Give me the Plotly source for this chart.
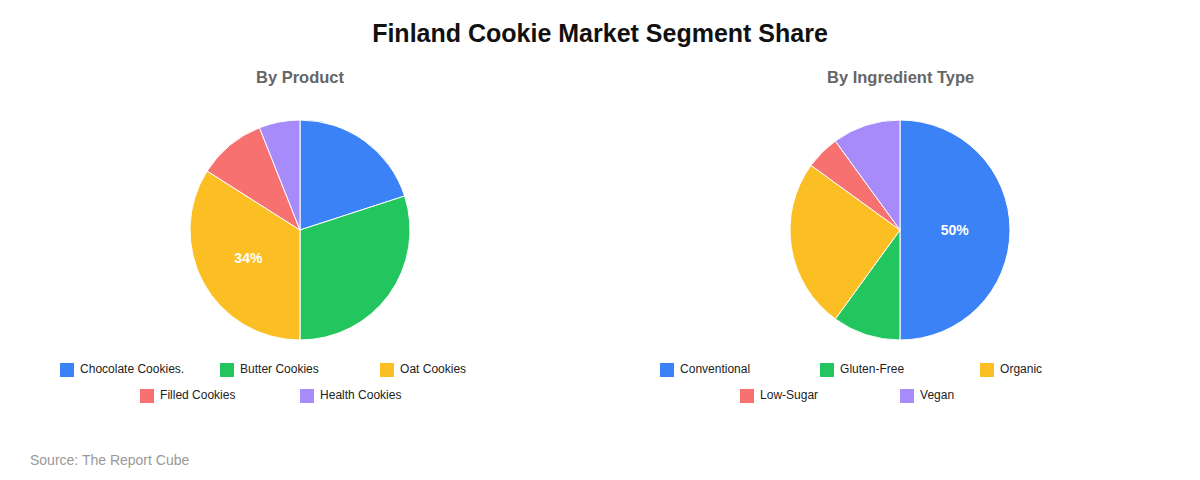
import plotly.graph_objects as go

prod_labels = ["Chocolate Cookies.", "Butter Cookies", "Oat Cookies", "Filled Cookies", "Health Cookies"]
prod_values = [20, 30, 34, 10, 6]
ingr_labels = ["Conventional", "Gluten-Free", "Organic", "Low-Sugar", "Vegan"]
ingr_values = [50, 10, 25, 5, 10]
colors = ["#3b82f6", "#22c55e", "#fbbf24", "#f87171", "#a78bfa"]

def texts(vals):
    m = max(vals)
    return ["<b>%d%%</b>" % v if v == m else "" for v in vals]

H, W, OFF = 480, 1200, 8
def px(x): return (x - OFF) / W
def py(y): return 1 - (y - OFF) / H

fig = go.Figure()
for labels, vals, cx in [(prod_labels, prod_values, 300), (ingr_labels, ingr_values, 900)]:
    fig.add_trace(go.Pie(labels=labels, values=vals, sort=False, direction="clockwise",
                         rotation=0, marker=dict(colors=colors, line=dict(color="white", width=1)),
                         text=texts(vals), textinfo="text", textposition="inside",
                         insidetextfont=dict(color="white", size=14, family="Liberation Sans"),
                         domain=dict(x=[px(cx - 110), px(cx + 110)], y=[py(340), py(120)]),
                         showlegend=False, hoverinfo="label+percent"))
    # legend built as markers on a pixel-scaled hidden axis: 3 per row, rows centered
    n = len(labels)
    xs, ys = [], []
    for i in range(n):
        row, col = divmod(i, 3)
        in_row = min(3, n - row * 3)
        start = cx + 7 - in_row * 80
        xs.append(start + col * 160)
        ys.append(370 + row * 26)
    fig.add_trace(go.Scatter(x=xs, y=ys, mode="markers+text", text=[" " + l for l in labels],
                             textposition="middle right", showlegend=False, hoverinfo="skip",
                             textfont=dict(size=12, color="#222", family="Liberation Sans"),
                             marker=dict(symbol="square", size=14, color=colors)))

fig.update_layout(
    width=W, height=H, margin=dict(l=0, r=0, t=0, b=0),
    paper_bgcolor="white", plot_bgcolor="rgba(0,0,0,0)",
    font=dict(family="Liberation Sans"),
    xaxis=dict(visible=False, range=[OFF, W + OFF], domain=[0, 1], fixedrange=True),
    yaxis=dict(visible=False, range=[H + OFF, OFF], domain=[0, 1], fixedrange=True),
    title=dict(text="<b>Finland Cookie Market Segment Share</b>", x=px(600), xanchor="center",
               y=py(33), yanchor="middle", font=dict(size=25, color="#111")),
    annotations=[
        dict(text="<b>By Product</b>", x=px(300), y=py(77), xref="paper", yref="paper",
             xanchor="center", yanchor="middle", showarrow=False, font=dict(size=16.5, color="#666")),
        dict(text="<b>By Ingredient Type</b>", x=px(900), y=py(77), xref="paper", yref="paper",
             xanchor="center", yanchor="middle", showarrow=False, font=dict(size=16.5, color="#666")),
        dict(text="Source: The Report Cube", x=px(28), y=py(460), xref="paper", yref="paper",
             xanchor="left", yanchor="middle", showarrow=False, font=dict(size=14, color="#999")),
    ],
)
fig.write_html("out.html")
